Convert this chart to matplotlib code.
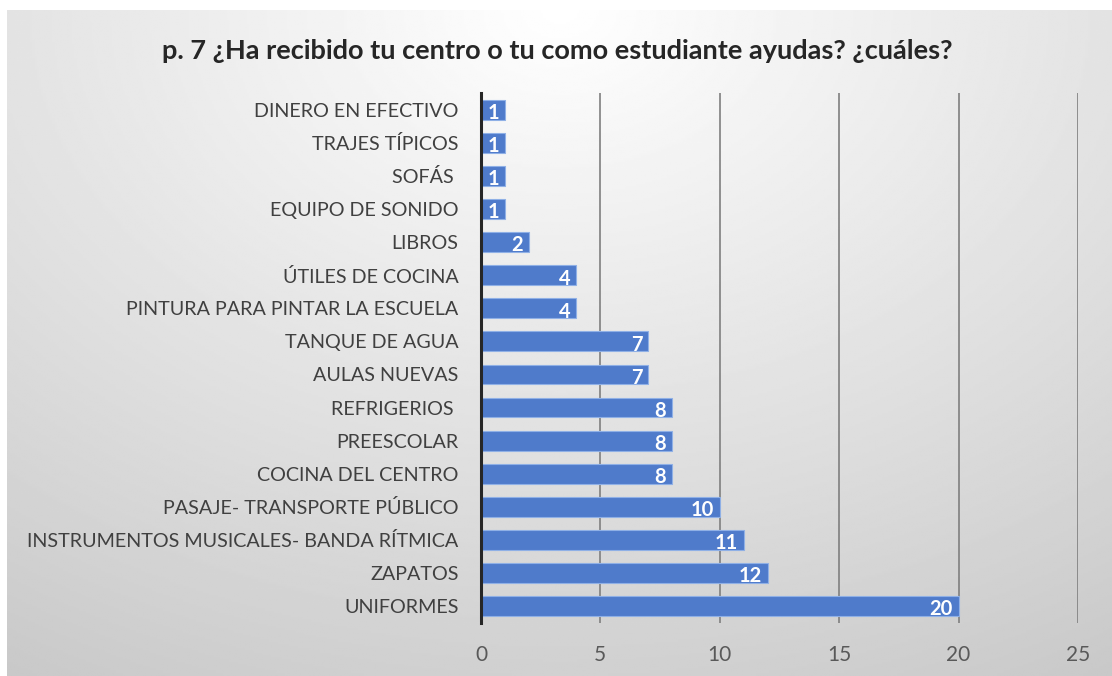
import numpy as np
import matplotlib.pyplot as plt

categorias = ["DINERO EN EFECTIVO", "TRAJES TÍPICOS", "SOFÁS ", "EQUIPO DE SONIDO",
              "LIBROS", "ÚTILES DE COCINA", "PINTURA PARA PINTAR LA ESCUELA",
              "TANQUE DE AGUA", "AULAS NUEVAS", "REFRIGERIOS ", "PREESCOLAR",
              "COCINA DEL CENTRO", "PASAJE- TRANSPORTE PÚBLICO",
              "INSTRUMENTOS MUSICALES- BANDA RÍTMICA", "ZAPATOS", "UNIFORMES"]
valores = [1, 1, 1, 1, 2, 4, 4, 7, 7, 8, 8, 8, 10, 11, 12, 20]
ticks_x = [0, 5, 10, 15, 20, 25]

plt.rcParams['font.family'] = ['Lato', 'DejaVu Sans']

fig = plt.figure(figsize=(11.12, 6.76), dpi=100)

# fondo con degradado radial
bg = fig.add_axes([0.006, 0, 0.994, 0.985])
yy, xx = np.mgrid[0:1:300j, 0:1:500j]
d = np.sqrt(((xx - 0.5) * 1.2) ** 2 + (yy * 1.0) ** 2)
img = 1.0 - 0.22 * np.clip(d, 0, 1.2) / 1.2
bg.imshow(img, cmap='gray', vmin=0, vmax=1, aspect='auto', extent=[0, 1, 0, 1])
bg.axis('off')

ax = fig.add_axes([0.4325, 0.079, 0.5369, 0.783])
ax.patch.set_alpha(0)
y = np.arange(len(categorias))
ax.barh(y, valores, height=0.6, color='#4f7bcb', edgecolor='#8fb0e6', linewidth=0.8, zorder=3)
for yi, v in zip(y, valores):
    ax.text(v - 0.25, yi + 0.1, str(v), ha='right', va='center', color='white',
            fontsize=14.5, fontweight='bold', zorder=4)

ax.set_ylim(15.5, -0.5)
ax.set_xlim(0, 25)
ax.set_yticks(y)
ax.set_yticklabels(categorias, fontsize=14.2, color='#404040')
ax.set_xticks(ticks_x)
ax.tick_params(axis='x', labelsize=15, labelcolor='#595959', length=0, pad=16)
ax.tick_params(axis='y', length=0, pad=16)
ax.grid(axis='x', color='#7f7f7f', linewidth=1.2, zorder=0)
for s in ['top', 'right', 'bottom']:
    ax.spines[s].set_visible(False)
ax.spines['left'].set_color('#262626')
ax.spines['left'].set_linewidth(2.2)
ax.spines['left'].set_zorder(5)

fig.text(0.501, 0.925, "p. 7 ¿Ha recibido tu centro o tu como estudiante ayudas? ¿cuáles?",
         ha='center', va='center', fontsize=19.5, fontweight='bold', color='#262626')

fig.savefig('out.png', dpi=100)
